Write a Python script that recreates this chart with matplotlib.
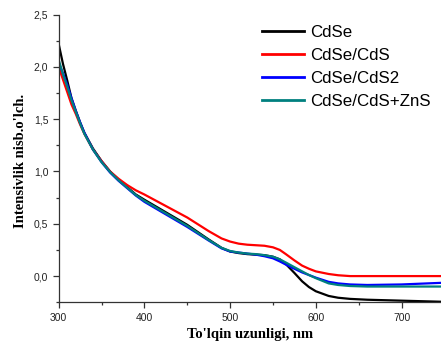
import matplotlib
matplotlib.use("Agg")
import matplotlib.pyplot as plt
from matplotlib.ticker import MultipleLocator, FuncFormatter

# Absorption spectra of CdSe-based quantum dots
wavelength = [300, 305, 310, 315, 320, 325, 330, 340, 350, 360, 370, 380, 390,
              400, 425, 450, 475, 490, 500, 510, 520, 530, 540, 550, 558, 565,
              575, 584, 592, 600, 615, 626, 640, 660, 700, 745]

cdse = [2.22, 2.03, 1.87, 1.70, 1.58, 1.47, 1.37, 1.22, 1.10, 1.00, 0.92, 0.85, 0.78,
        0.73, 0.61, 0.49, 0.35, 0.27, 0.235, 0.22, 0.21, 0.205, 0.20, 0.185, 0.16, 0.115,
        0.03, -0.05, -0.105, -0.145, -0.19, -0.207, -0.218, -0.226, -0.235, -0.245]

cdse_cds = [2.00, 1.88, 1.76, 1.64, 1.55, 1.45, 1.36, 1.21, 1.10, 1.00, 0.93, 0.87, 0.82,
            0.78, 0.67, 0.56, 0.43, 0.36, 0.33, 0.31, 0.30, 0.295, 0.29, 0.275, 0.25, 0.21,
            0.15, 0.10, 0.07, 0.045, 0.02, 0.008, 0.0, 0.0, 0.0, 0.0]

cdse_cds2 = [2.04, 1.94, 1.83, 1.70, 1.58, 1.47, 1.37, 1.21, 1.09, 0.99, 0.91, 0.84, 0.77,
             0.71, 0.59, 0.47, 0.34, 0.265, 0.235, 0.225, 0.215, 0.205, 0.19, 0.17, 0.14, 0.11,
             0.07, 0.035, 0.01, -0.015, -0.055, -0.07, -0.08, -0.085, -0.08, -0.065]

cdse_cds_zns = [2.07, 1.93, 1.81, 1.68, 1.57, 1.46, 1.36, 1.21, 1.09, 0.995, 0.915, 0.845, 0.775,
                0.72, 0.60, 0.48, 0.345, 0.27, 0.24, 0.225, 0.215, 0.21, 0.20, 0.185, 0.16, 0.13,
                0.085, 0.045, 0.01, -0.02, -0.07, -0.085, -0.095, -0.10, -0.10, -0.10]

labels = ["CdSe", "CdSe/CdS", "CdSe/CdS2", "CdSe/CdS+ZnS"]
colors = ["#000000", "#ff0000", "#0000ff", "#00807f"]

fig = plt.figure(figsize=(4.41, 3.47), dpi=100)
ax = fig.add_axes([0.133, 0.129, 0.867, 0.829])

for series, label, color in zip([cdse, cdse_cds, cdse_cds2, cdse_cds_zns], labels, colors):
    ax.plot(wavelength, series, color=color, lw=1.6, label=label)

ax.set_xlim(300, 746)
ax.set_ylim(-0.25, 2.5)

ax.spines["top"].set_visible(False)
ax.spines["right"].set_visible(False)
for s in ("left", "bottom"):
    ax.spines[s].set_linewidth(0.9)
    ax.spines[s].set_color("#333333")

ax.xaxis.set_major_locator(MultipleLocator(100))
ax.xaxis.set_minor_locator(MultipleLocator(50))
ax.yaxis.set_major_locator(MultipleLocator(0.5))
ax.yaxis.set_minor_locator(MultipleLocator(0.25))
ax.yaxis.set_major_formatter(FuncFormatter(lambda v, p: f"{v:.1f}".replace(".", ",")))

ax.tick_params(which="major", direction="out", length=4, width=0.9, color="#333333",
               labelsize=7.5, labelcolor="#222222")
ax.tick_params(which="minor", direction="out", length=2.5, width=0.9, color="#333333")
for lbl in ax.get_xticklabels() + ax.get_yticklabels():
    lbl.set_family("Liberation Sans")

ax.set_xlabel("To'lqin uzunligi, nm", family="Liberation Serif", weight="bold", fontsize=10.5)
ax.set_ylabel("Intensivlik nisb.o'lch.", family="Liberation Serif", weight="bold", fontsize=10.5)
ax.xaxis.set_label_coords(0.5, -0.088)
ax.yaxis.set_label_coords(-0.083, 0.49)

leg = ax.legend(loc="upper left", bbox_to_anchor=(0.50, 1.005), frameon=False,
                prop={"family": "Liberation Sans", "size": 12.2},
                handlelength=2.5, handletextpad=0.35, labelspacing=0.48, borderaxespad=0.3)
for h in leg.get_lines():
    h.set_linewidth(2.0)

fig.savefig("out.png", dpi=100)
